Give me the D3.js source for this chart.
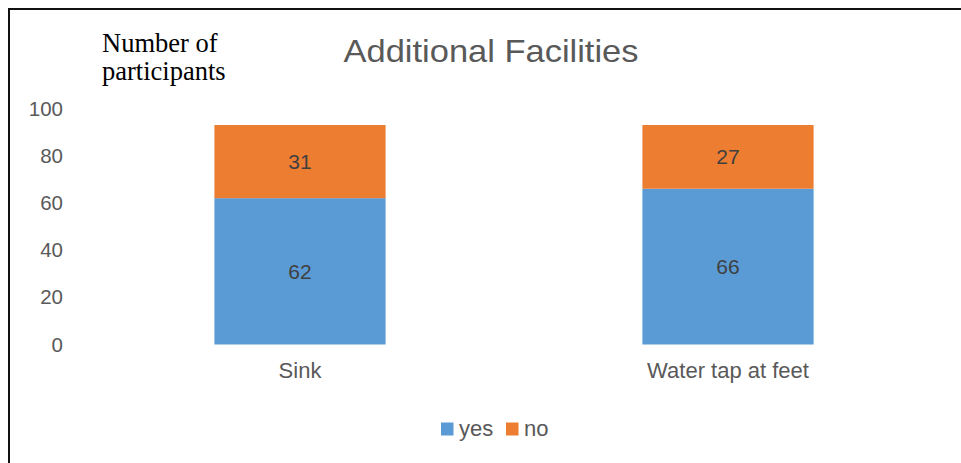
<!DOCTYPE html>
<html>
<head>
<meta charset="utf-8">
<script src="https://cdn.jsdelivr.net/npm/d3@7"></script>
<style>
  html, body { margin: 0; padding: 0; background: #fff; }
  svg { display: block; }
</style>
</head>
<body>
<svg id="chart" width="961" height="463"></svg>
<script>
// Survey answers per facility, stacked yes / no
const categories = ["Sink", "Water tap at feet"];
const seriesNames = ["yes", "no"];
const yesValues = [62, 66];
const noValues = [31, 27];
const yTicks = [0, 20, 40, 60, 80, 100];

const colors = { yes: "#5B9BD5", no: "#ED7D31" };

const svg = d3.select("#chart");

// outer frame (runs off the right and bottom edges)
svg.append("rect")
  .attr("x", 9).attr("y", 9)
  .attr("width", 1200).attr("height", 1200)
  .attr("fill", "none").attr("stroke", "#111").attr("stroke-width", 2);

const x = d3.scaleBand()
  .domain(categories)
  .range([86, 942])
  .paddingInner(0.6)
  .paddingOuter(0.3);

const y = d3.scaleLinear().domain([0, 100]).range([344.5, 108.5]);

const rows = categories.map((c, i) => ({ category: c, yes: yesValues[i], no: noValues[i] }));
const stacked = d3.stack().keys(seriesNames)(rows);

// y axis: labels only
const yAxis = svg.append("g")
  .attr("transform", "translate(63,0)")
  .call(d3.axisLeft(y).tickValues(yTicks).tickSize(0).tickPadding(0));
yAxis.select(".domain").remove();
yAxis.selectAll("text")
  .attr("fill", "#595959")
  .style("font-family", "'Liberation Sans', Arial, sans-serif")
  .style("font-size", "20.5px");

// stacked bars
const layers = svg.append("g").selectAll("g")
  .data(stacked)
  .join("g")
  .attr("fill", d => colors[d.key]);

layers.selectAll("rect")
  .data(d => d)
  .join("rect")
  .attr("x", d => x(d.data.category))
  .attr("width", x.bandwidth())
  .attr("y", d => y(d[1]))
  .attr("height", d => y(d[0]) - y(d[1]));

// value labels centred in each segment
layers.selectAll("text")
  .data(d => d)
  .join("text")
  .attr("x", d => x(d.data.category) + x.bandwidth() / 2)
  .attr("y", d => (y(d[0]) + y(d[1])) / 2)
  .attr("dy", "0.36em")
  .attr("text-anchor", "middle")
  .attr("fill", "#404040")
  .style("font-family", "'Liberation Sans', Arial, sans-serif")
  .style("font-size", "21px")
  .text(d => d[1] - d[0]);

// category labels
const xAxis = svg.append("g")
  .attr("transform", "translate(0,362)")
  .call(d3.axisBottom(x).tickSize(0).tickPadding(0));
xAxis.select(".domain").remove();
xAxis.selectAll("text")
  .attr("dy", "0.71em")
  .attr("fill", "#595959")
  .style("font-family", "'Liberation Sans', Arial, sans-serif")
  .style("font-size", "22px");

// title
svg.append("text")
  .attr("x", 491).attr("y", 62)
  .attr("text-anchor", "middle")
  .attr("fill", "#595959")
  .style("font-family", "'Liberation Sans', Arial, sans-serif")
  .style("font-size", "32px")
  .attr("textLength", 295)
  .attr("lengthAdjust", "spacingAndGlyphs")
  .text("Additional Facilities");

// y axis caption
const cap = svg.append("text")
  .attr("fill", "#000")
  .style("font-family", "'Liberation Serif', 'Times New Roman', serif")
  .style("font-size", "26.5px");
cap.append("tspan").attr("x", 102).attr("y", 52).text("Number of");
cap.append("tspan").attr("x", 102).attr("y", 80).text("participants");

// legend
const legend = svg.append("g").selectAll("g")
  .data(seriesNames)
  .join("g")
  .attr("transform", (d, i) => `translate(${[441, 506][i]},0)`);
legend.append("rect")
  .attr("x", 0).attr("y", 422.5)
  .attr("width", 12.5).attr("height", 13)
  .attr("fill", d => colors[d]);
legend.append("text")
  .attr("x", 18).attr("y", 436)
  .attr("fill", "#595959")
  .style("font-family", "'Liberation Sans', Arial, sans-serif")
  .style("font-size", "22px")
  .text(d => d);
</script>
</body>
</html>
